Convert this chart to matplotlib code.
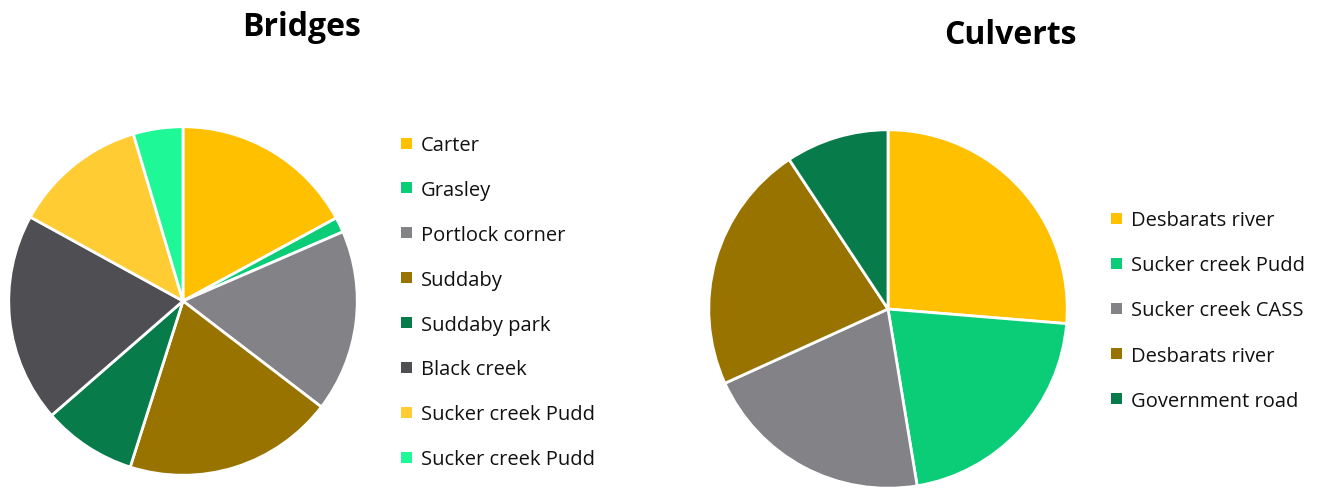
import matplotlib
matplotlib.use("Agg")
import matplotlib.pyplot as plt
from matplotlib.patches import Rectangle

plt.rcParams['font.family'] = ['Open Sans', 'DejaVu Sans']

# Bridges data (share of total)
bridge_labels = ["Carter", "Grasley", "Portlock corner", "Suddaby", "Suddaby park",
                 "Black creek", "Sucker creek Pudd", "Sucker creek Pudd"]
bridge_values = [17.1, 1.4, 16.9, 19.5, 8.7, 19.4, 12.4, 4.6]
bridge_colors = ["#FFC000", "#0BCD78", "#838287", "#997300", "#077B4A",
                 "#4F4E53", "#FFCC33", "#1EF896"]

# Culverts data (share of total)
culvert_labels = ["Desbarats river", "Sucker creek Pudd", "Sucker creek CASS",
                  "Desbarats river", "Government road"]
culvert_values = [26.3, 21.1, 20.8, 22.5, 9.3]
culvert_colors = ["#FFC000", "#0BCD78", "#838287", "#997300", "#077B4A"]

W, H = 1323, 489
fig = plt.figure(figsize=(W / 100, H / 100), dpi=100)


def px_axes(cx, cy, r):
    return fig.add_axes([(cx - r) / W, (H - cy - r) / H, 2 * r / W, 2 * r / H])


def draw_pie(ax, values, colors):
    ax.pie(values, colors=colors, startangle=90, counterclock=False,
           wedgeprops=dict(edgecolor="white", linewidth=2.0))
    ax.set_xlim(-1.01, 1.01)
    ax.set_ylim(-1.01, 1.01)
    ax.set_aspect("equal")
    ax.axis("off")


def draw_legend(labels, colors, x_box, y_first, step):
    for i, (lab, col) in enumerate(zip(labels, colors)):
        y = y_first + i * step
        fig.patches.append(Rectangle(((x_box) / W, (H - y - 5.5) / H), 11 / W, 11 / H,
                                     transform=fig.transFigure, facecolor=col,
                                     edgecolor="none"))
        fig.text((x_box + 20) / W, (H - y - 2) / H, lab, fontsize=14.5,
                 va="center", ha="left", color="#111111")


ax1 = px_axes(183, 302, 176)
draw_pie(ax1, bridge_values, bridge_colors)
fig.text(302 / W, (H - 28) / H, "Bridges", fontsize=23, fontweight="bold",
         ha="center", va="center")
draw_legend(bridge_labels, bridge_colors, 401, 144, 44.9)

ax2 = px_axes(888, 310, 181)
draw_pie(ax2, culvert_values, culvert_colors)
fig.text(1010 / W, (H - 35) / H, "Culverts", fontsize=23, fontweight="bold",
         ha="center", va="center")
draw_legend(culvert_labels, culvert_colors, 1111, 219, 45.2)

fig.savefig("out.png", dpi=100, facecolor="white")
